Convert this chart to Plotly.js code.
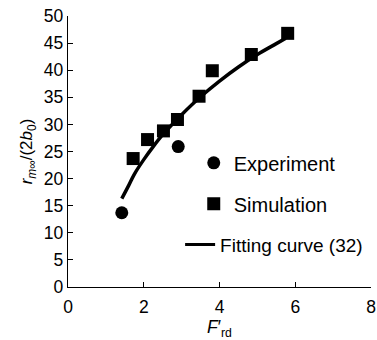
<!DOCTYPE html>
<html>
<head>
<meta charset="utf-8">
<script src="https://cdn.plot.ly/plotly-3.0.1.min.js"></script>
<style>html,body{margin:0;padding:0;background:#fff;}#chart{width:377px;height:340px;}</style>
</head>
<body>
<div id="chart"></div>
<script>
// Experiment points
const expX = [1.42, 2.91];
const expY = [13.7, 25.9];
// Simulation points
const simX = [1.72, 2.1, 2.52, 2.89, 3.46, 3.81, 4.84, 5.8];
const simY = [23.7, 27.2, 28.8, 30.9, 35.2, 39.9, 42.9, 46.8];
// Fitting curve (32)
const fitX = [1.42, 1.6, 1.75, 2.0, 2.25, 2.5, 2.75, 3.0, 3.5, 4.0, 4.5, 5.0, 5.5, 5.75];
const fitY = [16.3, 18.7, 20.8, 23.5, 25.9, 28.1, 30.0, 31.8, 35.1, 38.0, 40.6, 42.9, 44.9, 45.9];

const FONT = 'Liberation Sans, Arial, sans-serif';

const traces = [
  {x: fitX, y: fitY, mode: 'lines', name: 'Fitting curve (32)', showlegend: false,
   line: {color: '#000', width: 3.5, shape: 'spline'}, hoverinfo: 'skip'},
  {x: expX, y: expY, mode: 'markers', name: 'Experiment', legendgroup: 'a', legend: 'legend',
   marker: {symbol: 'circle', size: 13, color: '#000'}},
  {x: simX, y: simY, mode: 'markers', name: 'Simulation', legendgroup: 'b', legend: 'legend',
   marker: {symbol: 'square', size: 13, color: '#000'}},
  {x: [null], y: [null], mode: 'lines', name: 'Fitting curve (32)', legend: 'legend2',
   line: {color: '#000', width: 3}}
];

const legFont = {family: FONT, size: 20, color: '#000'};

const layout = {
  width: 377, height: 340,
  margin: {l: 68, r: 6, t: 16, b: 53, autoexpand: false},
  paper_bgcolor: '#fff', plot_bgcolor: '#fff',
  font: {family: FONT, size: 17, color: '#000'},
  showlegend: true,
  legend: {x: 0.415, y: 0.53, xanchor: 'left', yanchor: 'top', bgcolor: 'rgba(0,0,0,0)',
           font: legFont, traceorder: 'grouped', tracegroupgap: 12, itemwidth: 30},
  legend2: {x: 0.37, y: 0.226, xanchor: 'left', yanchor: 'top', bgcolor: 'rgba(0,0,0,0)',
           font: {family: FONT, size: 19, color: '#000'}, itemwidth: 30},
  xaxis: {range: [0, 8], tick0: 0, dtick: 2, showgrid: false, zeroline: false,
          showline: true, linecolor: '#000', linewidth: 1.3, ticks: 'inside', ticklen: 5,
          tickcolor: '#000', tickfont: {family: FONT, size: 17.5}, ticklabelstandoff: 4,
          title: {text: "<i>F</i>\u2032<sub>rd</sub>", font: {family: FONT, size: 17.5}, standoff: 4}},
  yaxis: {range: [0, 50], tick0: 0, dtick: 5, showgrid: false, zeroline: false,
          showline: true, linecolor: '#000', linewidth: 1.3, ticks: 'inside', ticklen: 5,
          tickcolor: '#000', tickfont: {family: FONT, size: 17.5},
          title: {text: "<i>r</i><sub><i>m</i>\u221e</sub>/(2<i>b</i><sub>0</sub>)", font: {family: FONT, size: 17}, standoff: 6}}
};

Plotly.newPlot('chart', traces, layout, {displayModeBar: false, staticPlot: true});
</script>
</body>
</html>
